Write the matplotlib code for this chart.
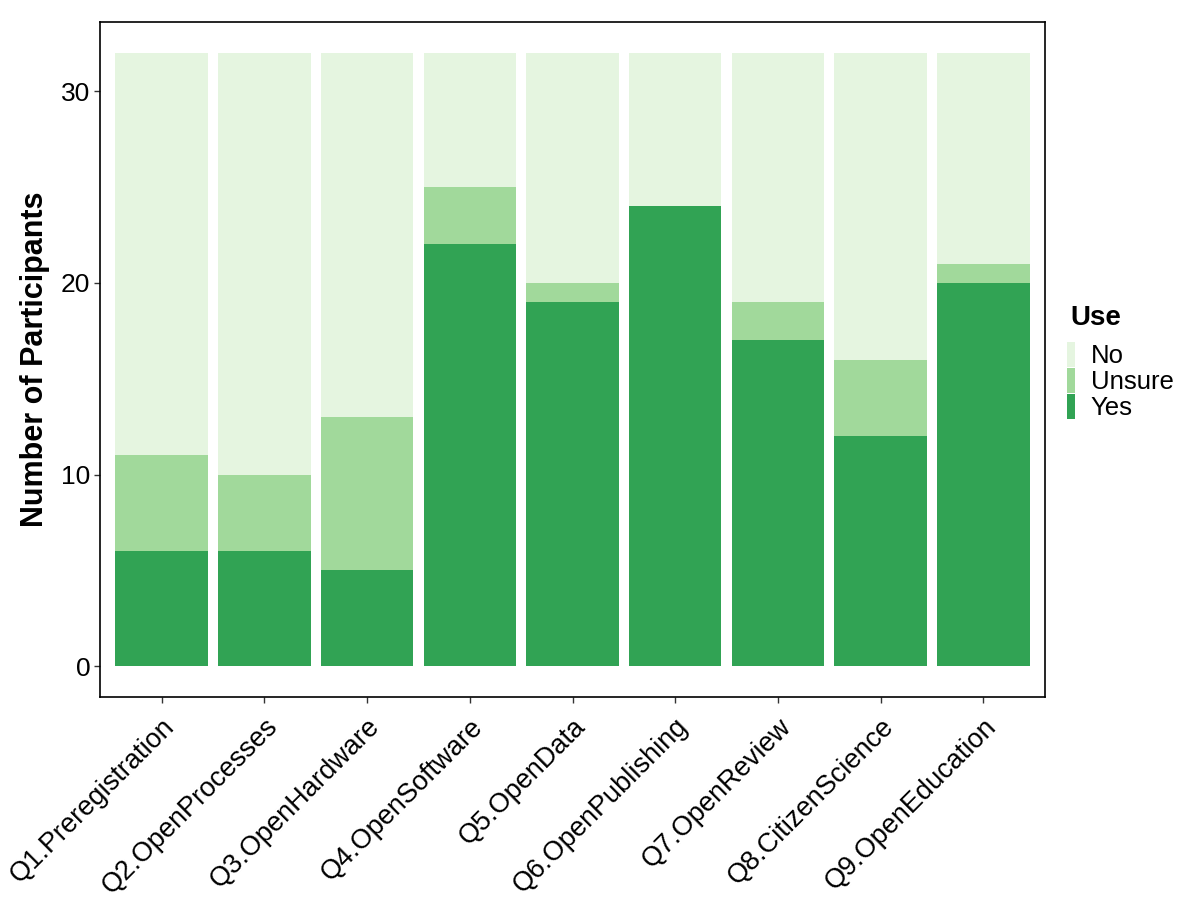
import matplotlib
matplotlib.use("Agg")
import matplotlib.pyplot as plt
import numpy as np
from matplotlib.patches import Patch

plt.rcParams['font.family'] = ['Liberation Sans', 'DejaVu Sans']

categories = ["Q1.Preregistration", "Q2.OpenProcesses", "Q3.OpenHardware",
              "Q4.OpenSoftware", "Q5.OpenData", "Q6.OpenPublishing",
              "Q7.OpenReview", "Q8.CitizenScience", "Q9.OpenEducation"]
yes = [6, 6, 5, 22, 19, 24, 17, 12, 20]
unsure = [5, 4, 8, 3, 1, 0, 2, 4, 1]
no = [21, 22, 19, 7, 12, 8, 13, 16, 11]
ticks = [0, 10, 20, 30]

c_no = "#e5f5e0"
c_unsure = "#a1d99b"
c_yes = "#31a354"

fig = plt.figure(figsize=(12, 9.09), dpi=100)
ax = fig.add_axes([100/1200, 1-697/909, 945/1200, 675/909])

x = np.arange(1, len(categories) + 1)
yes_a = np.array(yes); uns_a = np.array(unsure); no_a = np.array(no)
ax.bar(x, yes_a, width=0.9, color=c_yes, linewidth=0)
ax.bar(x, uns_a, bottom=yes_a, width=0.9, color=c_unsure, linewidth=0)
ax.bar(x, no_a, bottom=yes_a + uns_a, width=0.9, color=c_no, linewidth=0)

total = max(yes_a + uns_a + no_a)
ax.set_xlim(0.4, len(categories) + 0.6)
ax.set_ylim(-0.05 * total, total * 1.05)
ax.set_yticks(ticks)
ax.set_yticklabels([str(t) for t in ticks], fontsize=19)
ax.set_xticks(x)
ax.set_xticklabels(categories, rotation=45, ha='right', va='top',
                   rotation_mode='anchor', fontsize=19.5)
ax.tick_params(axis='both', length=4, width=1, color='#333333')
ax.tick_params(axis='x', pad=8)
ax.tick_params(axis='y', pad=3)
for s in ax.spines.values():
    s.set_linewidth(1.2)
    s.set_color('black')
ax.set_ylabel("Number of Participants", fontsize=22, fontweight='bold', labelpad=8)

handles = [Patch(facecolor=c_no, edgecolor='none', label='No'),
           Patch(facecolor=c_unsure, edgecolor='none', label='Unsure'),
           Patch(facecolor=c_yes, edgecolor='none', label='Yes')]
fig.text(1070/1200, 1-318/909, "Use", fontsize=20, fontweight='bold',
         ha='left', va='center')
leg = fig.legend(handles=handles, loc='center left',
                 bbox_to_anchor=(1062/1200, 1-381/909), frameon=False,
                 fontsize=18.5, borderaxespad=0, borderpad=0.2,
                 handlelength=0.32, handleheight=1.1, handletextpad=0.6,
                 labelspacing=0.0)

fig.savefig("out.png", dpi=100)
